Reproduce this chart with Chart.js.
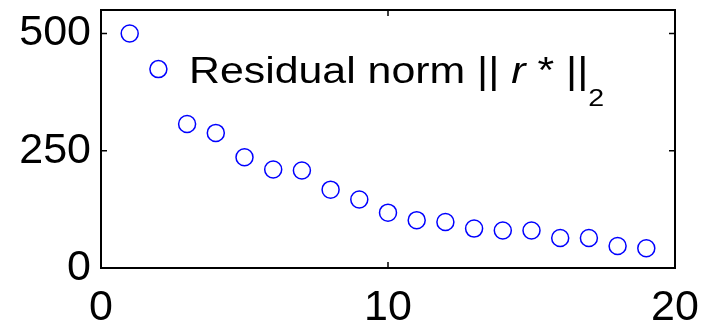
<!DOCTYPE html>
<html>
<head>
<meta charset="utf-8">
<script src="https://cdn.jsdelivr.net/npm/chart.js@4/dist/chart.umd.min.js"></script>
<style>
  html, body { margin: 0; padding: 0; background: #fff; }
  #wrap { width: 704px; height: 326px; }
</style>
</head>
<body>
<div id="wrap"><canvas id="resid"></canvas></div>
<script>
// iterations and residual norm values
var iters = [1, 2, 3, 4, 5, 6, 7, 8, 9, 10, 11, 12, 13, 14, 15, 16, 17, 18, 19];
var residNorm = [500, 424, 307, 288, 236, 210, 208, 167, 146, 118, 102, 98, 84, 80, 80, 64, 64, 47, 42];
var xTicks = [0, 10, 20];
var yTicks = [0, 250, 500];

var FONT = 'Liberation Sans, Arial, sans-serif';
var STRETCH = 1.19; // text in the picture is a bit wide

// box round the plot + inward ticks, matlab style
var boxPlugin = {
    id: 'box',
    afterDraw: function(chart) {
	var c = chart.ctx, a = chart.chartArea;
	var xs = chart.scales.x, ys = chart.scales.y;
	c.save();
	c.strokeStyle = '#000';
	c.lineWidth = 2;
	c.strokeRect(a.left, a.top, a.right - a.left, a.bottom - a.top);
	c.lineWidth = 1.5;
	c.beginPath();
	xTicks.forEach(function(v) {
	    var px = xs.getPixelForValue(v);
	    c.moveTo(px, a.bottom); c.lineTo(px, a.bottom - 6);
	    c.moveTo(px, a.top); c.lineTo(px, a.top + 6);
	});
	yTicks.forEach(function(v) {
	    var py = ys.getPixelForValue(v);
	    c.moveTo(a.left, py); c.lineTo(a.left + 6, py);
	    c.moveTo(a.right, py); c.lineTo(a.right - 6, py);
	});
	c.stroke();
	c.restore();
    }
};

// legend text with italic r and subscript 2
var legendPlugin = {
    id: 'legendText',
    afterDraw: function(chart) {
	var c = chart.ctx;
	var parts = [
	    { t: 'Residual norm || ', f: '36px ' + FONT, dy: 0 },
	    { t: 'r', f: 'italic 36px ' + FONT, dy: 0 },
	    { t: ' * ||', f: '36px ' + FONT, dy: 0 },
	    { t: '2', f: '24px ' + FONT, dy: 23 }
	];
	var x = 189, y = 83;
	c.save();
	c.fillStyle = '#000';
	c.textBaseline = 'alphabetic';
	parts.forEach(function(p) {
	    c.font = p.f;
	    c.save();
	    c.translate(x, y + p.dy);
	    c.scale(STRETCH, 1);
	    c.fillText(p.t, 0, 0);
	    c.restore();
	    x += c.measureText(p.t).width * STRETCH;
	});
	c.restore();
    }
};

var ctx = document.getElementById('resid');
var chart = new Chart(ctx, {
    type: 'scatter',
    data: {
	datasets: [{
	    label: 'Residual norm',
	    data: iters.map(function(it, i) { return { x: it, y: residNorm[i] }; }),
	    borderColor: '#0000ff',
	    backgroundColor: 'rgba(0,0,0,0)',
	    pointRadius: 8.5,
	    borderWidth: 1.5,
	    pointHoverRadius: 8.5
	}]
    },
    options: {
	animation: false,
	responsive: true,
	maintainAspectRatio: false,
	layout: { padding: { left: 0, right: 29, top: 9, bottom: 0 } },
	scales: {
	    x: {
		type: 'linear',
		min: 0,
		max: 20,
		afterBuildTicks: function(s) { s.ticks = xTicks.map(function(v) { return { value: v }; }); },
		afterFit: function(s) { s.height = 58; s.paddingLeft = 0; s.paddingRight = 0; },
		grid: { display: false, drawTicks: false },
		border: { display: false },
		ticks: { color: '#000', padding: 14, maxRotation: 0, font: { family: FONT, size: 43 } }
	    },
	    y: {
		min: 0,
		max: 550,
		afterBuildTicks: function(s) { s.ticks = yTicks.map(function(v) { return { value: v }; }); },
		afterFit: function(s) { s.width = 101; s.paddingTop = 0; s.paddingBottom = 0; },
		grid: { display: false, drawTicks: false },
		border: { display: false },
		ticks: { color: '#000', padding: 10, font: { family: FONT, size: 43 } }
	    }
	},
	plugins: {
	    legend: { display: false },
	    tooltip: { enabled: false }
	}
    },
    plugins: [boxPlugin, legendPlugin]
});
</script>
</body>
</html>
